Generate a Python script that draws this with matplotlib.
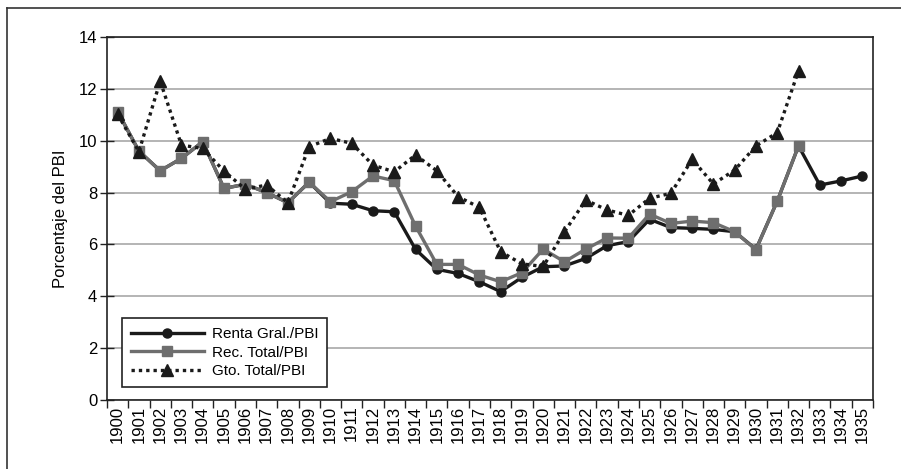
import numpy as np
import matplotlib
matplotlib.use("Agg")
import matplotlib.pyplot as plt
from matplotlib.lines import Line2D

plt.rcParams['font.family'] = ['Liberation Sans', 'DejaVu Sans']

# data
years = [str(y) for y in range(1900, 1936)]
renta = [11.12, 9.6, 8.84, 9.32, 9.96, 8.16, 8.32, 8.0, 7.61, 8.4,
         7.59, 7.55, 7.3, 7.26, 5.81, 5.04, 4.88, 4.56, 4.18, 4.73,
         5.14, 5.17, 5.46, 5.95, 6.11, 6.97, 6.65, 6.62, 6.58, 6.49,
         5.81, 7.67, 9.8, 8.29, 8.45, 8.64]
rec = [11.12, 9.6, 8.84, 9.32, 9.96, 8.16, 8.32, 8.0, 7.61, 8.4,
       7.65, 8.03, 8.64, 8.46, 6.71, 5.23, 5.23, 4.82, 4.56, 4.91,
       5.82, 5.33, 5.82, 6.25, 6.24, 7.17, 6.81, 6.9, 6.84, 6.49,
       5.8, 7.67, 9.8, np.nan, np.nan, np.nan]
gto = [11.02, 9.58, 12.3, 9.83, 9.7, 8.83, 8.13, 8.29, 7.61, 9.77,
       10.09, 9.9, 9.06, 8.8, 9.45, 8.84, 7.84, 7.43, 5.72, 5.25,
       5.15, 6.49, 7.71, 7.33, 7.12, 7.78, 7.97, 9.28, 8.33, 8.87,
       9.8, 10.31, 12.7, np.nan, np.nan, np.nan]
labels = ['Renta Gral./PBI', 'Rec. Total/PBI', 'Gto. Total/PBI']
yticks = [0, 2, 4, 6, 8, 10, 12, 14]

W, H = 901, 469
fig = plt.figure(figsize=(W / 100, H / 100), dpi=100)
ax = fig.add_axes([107 / W, 1 - 400 / H, 766 / W, 363 / H])

x = np.arange(len(years))
ax.plot(x, renta, color='#1a1a1a', lw=2.4, marker='o', ms=6.5, label=labels[0], zorder=3)
ax.plot(x, rec, color='#6e6e6e', lw=2.4, marker='s', ms=7, label=labels[1], zorder=4)
ax.plot(x, gto, color='#1a1a1a', lw=2.4, ls=(0, (1, 1.2)), marker='^', ms=8,
        label=labels[2], zorder=5)

ax.set_xlim(-0.5, len(years) - 0.5)
ax.set_ylim(0, 14)
ax.set_yticks(yticks)
ax.yaxis.grid(True, color='#a8a8a8', lw=1.2)
ax.set_axisbelow(True)

# ticks at category boundaries, labels at category centres
ax.set_xticks(np.arange(-0.5, len(years), 1.0))
ax.set_xticklabels([])
ax.set_xticks(x, minor=True)
ax.set_xticklabels(years, minor=True, rotation=90, fontsize=12)
ax.tick_params(axis='x', which='major', direction='out', length=6, width=1, color='#222222')
ax.tick_params(axis='x', which='minor', length=0, pad=4)
ax.tick_params(axis='y', direction='inout', length=10, width=1, labelsize=12, pad=2, color='#222222')

for s in ax.spines.values():
    s.set_color('#222222')
    s.set_linewidth(1.2)

ax.set_ylabel('Porcentaje del PBI', fontsize=12, labelpad=8)

leg = ax.legend(loc='lower left', bbox_to_anchor=(0.019, 0.035), fontsize=11,
                fancybox=False, edgecolor='#222222', framealpha=1,
                handlelength=4.8, handletextpad=0.5, labelspacing=0.3,
                borderpad=0.6, borderaxespad=0)
leg.get_frame().set_linewidth(1.2)

# outer frame (top and left only visible)
fig.add_artist(Line2D([7 / W, 7 / W], [0, 1 - 8 / H], color='#333333', lw=1.2))
fig.add_artist(Line2D([7 / W, 1], [1 - 8 / H, 1 - 8 / H], color='#333333', lw=1.2))

fig.savefig('out.png', dpi=100)
